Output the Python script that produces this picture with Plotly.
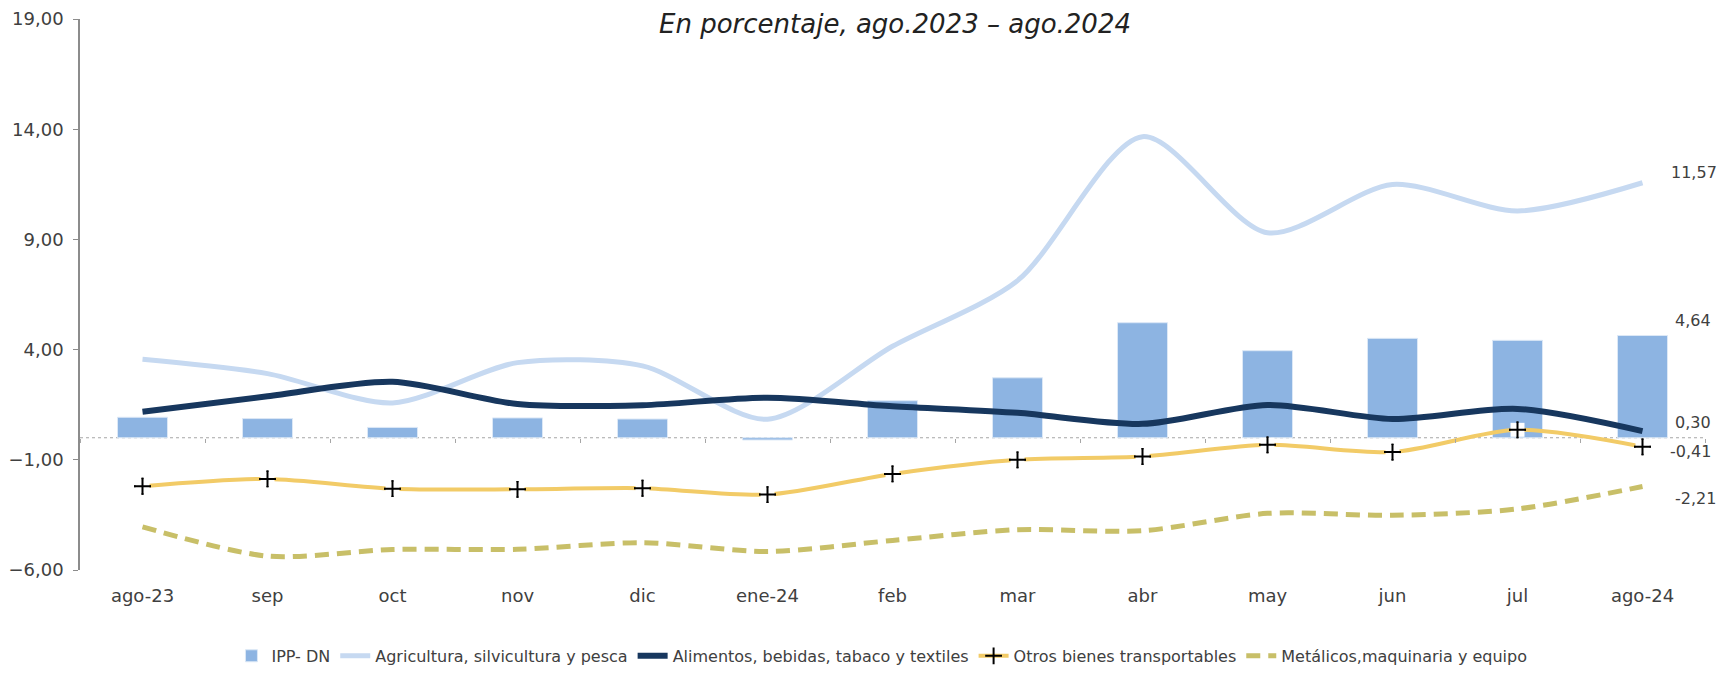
import plotly.graph_objects as go

categories = ["ago-23", "sep", "oct", "nov", "dic", "ene-24", "feb", "mar", "abr", "may", "jun", "jul", "ago-24"]
ipp_dn = [0.93, 0.87, 0.47, 0.90, 0.85, -0.10, 1.68, 2.72, 5.22, 3.95, 4.51, 4.42, 4.64]
agricultura = [3.56, 2.91, 1.58, 3.41, 3.26, 0.84, 4.15, 7.13, 13.66, 9.30, 11.49, 10.29, 11.57]
alimentos = [1.18, 1.88, 2.54, 1.53, 1.48, 1.82, 1.43, 1.13, 0.63, 1.49, 0.85, 1.31, 0.30]
otros = [-2.20, -1.87, -2.31, -2.34, -2.29, -2.58, -1.64, -1.00, -0.85, -0.32, -0.65, 0.36, -0.41]
metalicos = [-4.04, -5.37, -5.07, -5.06, -4.76, -5.16, -4.66, -4.17, -4.22, -3.43, -3.52, -3.23, -2.21]
y_ticks = [-6, -1, 4, 9, 14, 19]

FONT = "DejaVu Sans"
TXT = "#404040"

fig = go.Figure()
fig.add_trace(go.Bar(x=categories, y=ipp_dn, name="IPP- DN", width=0.4,
                     marker=dict(color="#8DB4E2", line=dict(color="#DCE8F6", width=1))))
fig.add_trace(go.Scatter(x=categories, y=agricultura, name="Agricultura, silvicultura y pesca", mode="lines",
                         line=dict(color="#C6D9F1", width=5, shape="spline", smoothing=0.8)))
fig.add_trace(go.Scatter(x=categories, y=alimentos, name="Alimentos, bebidas, tabaco y textiles", mode="lines",
                         line=dict(color="#17375E", width=6, shape="spline", smoothing=0.8)))
fig.add_trace(go.Scatter(x=categories, y=otros, name="Otros bienes transportables", mode="lines+markers",
                         line=dict(color="#F2CB67", width=4, shape="spline", smoothing=0.8),
                         marker=dict(symbol="cross-thin", size=12, color="black",
                                     line=dict(color="black", width=2))))
# white boxes behind the "+" markers
fig.add_trace(go.Scatter(x=categories, y=otros, mode="markers", showlegend=False, hoverinfo="skip",
                         marker=dict(symbol="square", size=14, color="white")))
fig.add_trace(go.Scatter(x=categories, y=otros, mode="markers", showlegend=False, hoverinfo="skip",
                         marker=dict(symbol="cross-thin", size=12, color="black",
                                     line=dict(color="black", width=2))))
fig.add_trace(go.Scatter(x=categories, y=metalicos, name="Metálicos,maquinaria y equipo", mode="lines",
                         line=dict(color="#C8BF68", width=5, shape="spline", smoothing=0.8, dash="14px,8px")))
# helper trace for the zero-line axis ticks
fig.add_trace(go.Scatter(x=categories, y=[0] * len(categories), xaxis="x2", mode="none",
                         showlegend=False, hoverinfo="skip"))

labels = [(agricultura[-1], 26, 10), (ipp_dn[-1], 30, 15), (alimentos[-1], 30, 9),
          (otros[-1], 25, -5), (metalicos[-1], 30, -12)]
for val, xs, ys in labels:
    fig.add_annotation(x=categories[-1], y=val, xref="x", yref="y", xanchor="left", yanchor="middle",
                       text=f"{val:.2f}".replace(".", ","), showarrow=False, xshift=xs, yshift=ys,
                       font=dict(family=FONT, size=16, color=TXT))

fig.add_annotation(x=0.5015, y=0.991, xref="paper", yref="paper", xanchor="center", yanchor="middle",
                   text="<i>En porcentaje, ago.2023 – ago.2024</i>", showarrow=False,
                   font=dict(family=FONT, size=26, color="#222222"))

fig.add_shape(type="line", xref="paper", yref="y", x0=0, x1=1, y0=0, y1=0,
              line=dict(color="#A6A6A6", width=1, dash="dot"), layer="below")

fig.update_layout(
    width=1719, height=673,
    margin=dict(l=80, r=14, t=19, b=103, autoexpand=False),
    plot_bgcolor="white", paper_bgcolor="white",
    separators=",.",
    font=dict(family=FONT, color=TXT, size=17),
    xaxis=dict(type="category", categoryorder="array", categoryarray=categories, range=[-0.5, 12.5],
               showline=False, ticks="", showgrid=False, zeroline=False, automargin=False,
               ticklabelstandoff=13,
               tickfont=dict(family=FONT, size=18, color=TXT)),
    xaxis2=dict(type="category", categoryorder="array", categoryarray=categories, range=[-0.5, 12.5],
                overlaying="x", anchor="free", position=6 / 25, side="bottom",
                showticklabels=False, ticks="outside", ticklen=4, tickcolor="#A6A6A6", tickwidth=1,
                tickson="boundaries", showgrid=False, showline=False, zeroline=False),
    yaxis=dict(range=[-6, 19], tickvals=y_ticks, tickformat=".2f", showgrid=False, zeroline=False,
               showline=True, linecolor="#8C8C8C", linewidth=1.5, ticks="outside", ticklen=5,
               ticklabelstandoff=6,
               tickcolor="#8C8C8C", automargin=False, tickfont=dict(family=FONT, size=18, color=TXT)),
    legend=dict(orientation="h", x=0.4935, xanchor="center", y=-0.125, yanchor="top",
                font=dict(family=FONT, size=16, color=TXT), traceorder="normal"),
    showlegend=True,
)

fig.write_html("out.html", config={"displayModeBar": False},
               post_script="document.body.style.margin='0';")
